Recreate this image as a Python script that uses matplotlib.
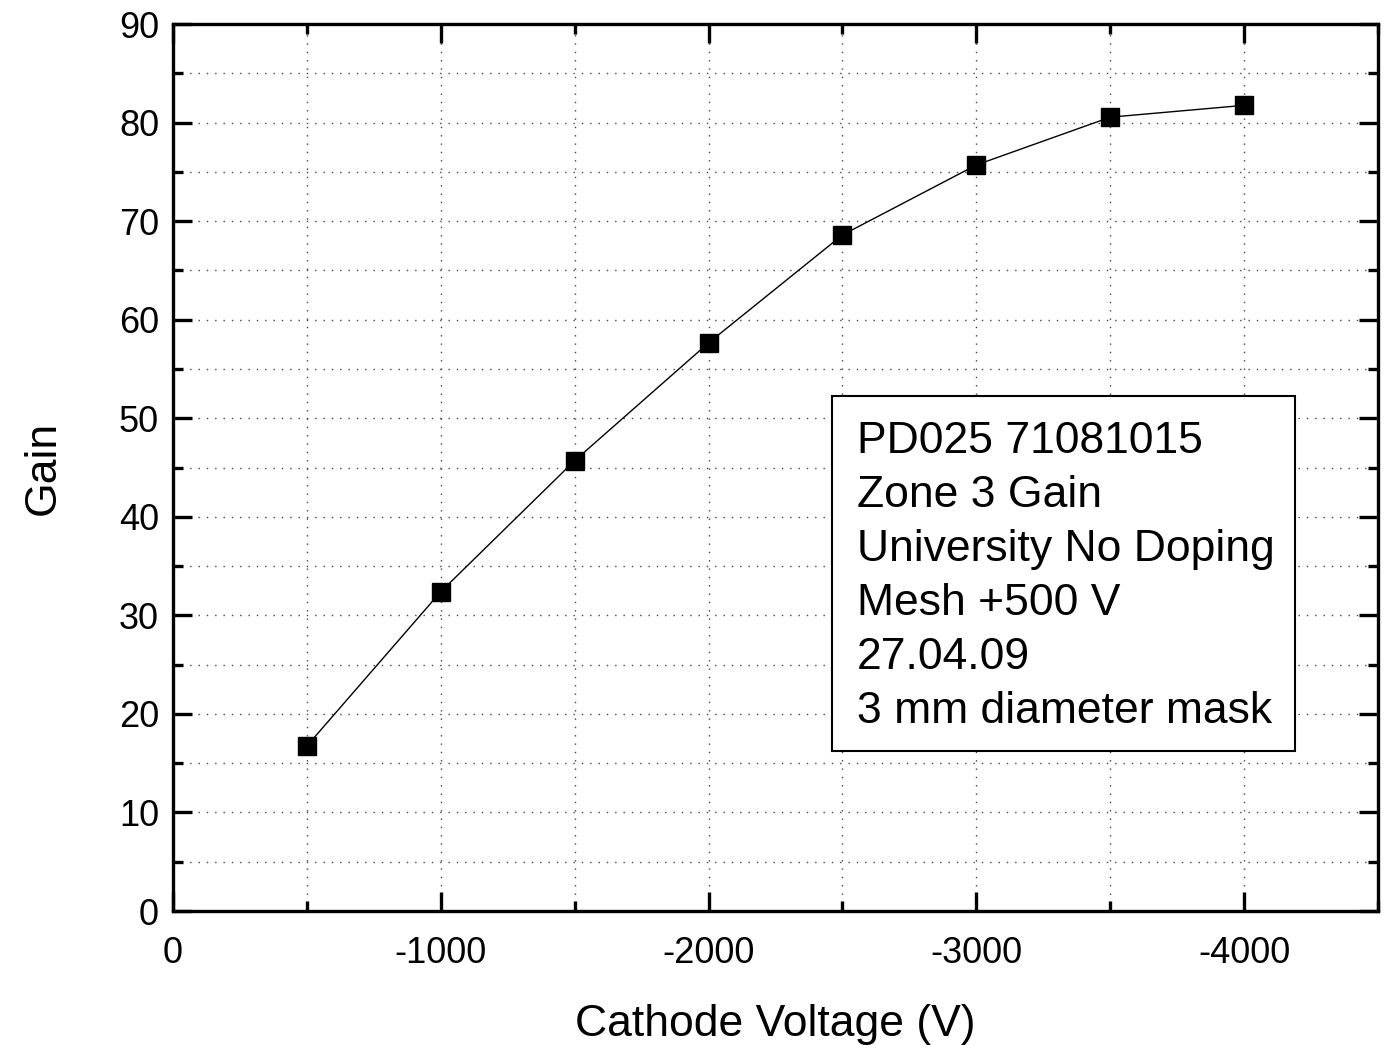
import matplotlib
matplotlib.use("Agg")
import matplotlib.pyplot as plt
from matplotlib.ticker import MultipleLocator
from matplotlib.patches import Rectangle

plt.rcParams['font.family'] = ['Liberation Sans', 'DejaVu Sans']
plt.rcParams['axes.unicode_minus'] = False

# data
voltage = [-500, -1000, -1500, -2000, -2500, -3000, -3500, -4000]
gain = [16.75, 32.4, 45.7, 57.65, 68.6, 75.7, 80.55, 81.75]

info_lines = ["PD025 71081015", "Zone 3 Gain", "University No Doping",
              "Mesh +500 V", "27.04.09", "3 mm diameter mask"]

fig = plt.figure(figsize=(13.84, 10.45), dpi=100)
ax = fig.add_axes([0.125, 0.1282, 0.8707, 0.8488])

ax.plot(voltage, gain, color='black', lw=1.0, marker='s', markersize=13,
        markerfacecolor='black', markeredgecolor='black', zorder=3)

ax.set_xlim(0, -4500)
ax.set_ylim(0, 90)
ax.xaxis.set_major_locator(MultipleLocator(1000))
ax.xaxis.set_minor_locator(MultipleLocator(500))
ax.yaxis.set_major_locator(MultipleLocator(10))
ax.yaxis.set_minor_locator(MultipleLocator(5))

ax.grid(True, which='both', color='#444444', linestyle=(0, (1, 5)), linewidth=1.0)
ax.set_axisbelow(True)

for s in ax.spines.values():
    s.set_linewidth(2.4)

ax.tick_params(which='both', direction='in', top=True, right=True,
               labelsize=26, width=2.4)
ax.tick_params(which='major', length=14)
ax.tick_params(axis='x', which='major', pad=18)
ax.tick_params(axis='y', which='major', pad=10)
ax.tick_params(which='minor', length=7)

ax.set_xlabel("Cathode Voltage (V)", fontsize=32, labelpad=24)
ax.set_ylabel("Gain", fontsize=32, labelpad=40)

# annotation box
ax.add_patch(Rectangle((0.547, 0.1804), 0.384, 0.4002, transform=ax.transAxes,
                       facecolor='white', edgecolor='black', linewidth=1.5,
                       zorder=4))
first_base = 1 - (452.7 - 24) / 887
step = 54.06 / 887
for i, line in enumerate(info_lines):
    ax.text(0.5676, first_base - i * step, line, transform=ax.transAxes,
            fontsize=32, va='baseline', ha='left', zorder=5)

fig.savefig("out.png", dpi=100)
